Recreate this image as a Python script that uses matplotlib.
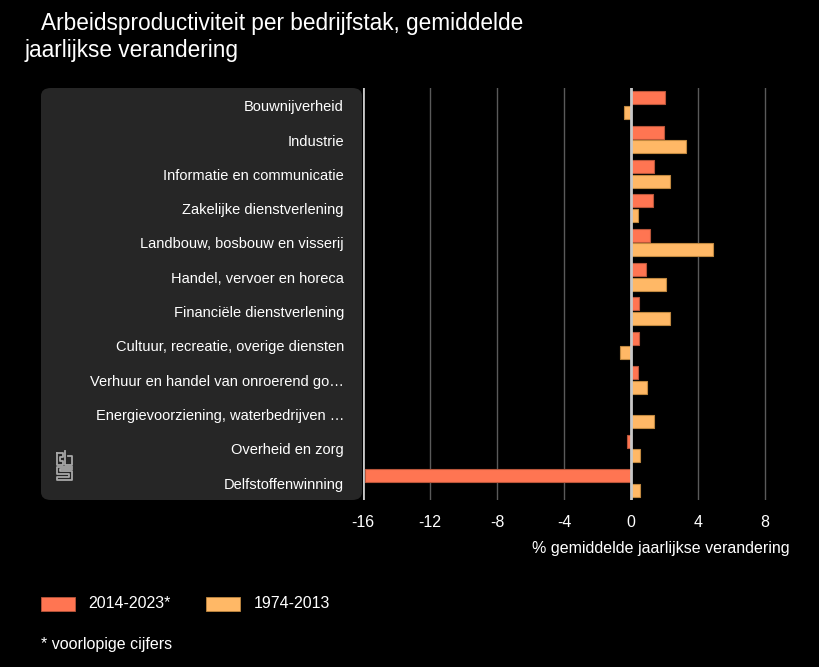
import matplotlib
matplotlib.use("Agg")
import matplotlib.pyplot as plt
import numpy as np
from matplotlib.patches import FancyBboxPatch, Rectangle

plt.rcParams['font.family'] = ['Liberation Sans', 'DejaVu Sans']

# data
sectoren = ["Bouwnijverheid", "Industrie", "Informatie en communicatie",
            "Zakelijke dienstverlening", "Landbouw, bosbouw en visserij",
            "Handel, vervoer en horeca", "Financiële dienstverlening",
            "Cultuur, recreatie, overige diensten",
            "Verhuur en handel van onroerend go…",
            "Energievoorziening, waterbedrijven …",
            "Overheid en zorg", "Delfstoffenwinning"]
recent = [2.05, 1.95, 1.35, 1.3, 1.15, 0.9, 0.5, 0.5, 0.4, 0.0, -0.25, -15.9]   # 2014-2023*
oud = [-0.4, 3.3, 2.35, 0.4, 4.9, 2.1, 2.35, -0.65, 0.95, 1.4, 0.55, 0.55]      # 1974-2013
xticks = [-16, -12, -8, -4, 0, 4, 8]

rood = '#FF7552'
rood_rand = '#B8553A'
oranje = '#FFB866'
oranje_rand = '#C08840'

W, H = 820, 667
fig = plt.figure(figsize=(W/100, H/100), dpi=100, facecolor='black')

def fx(px): return px / W
def fy(py): return 1 - py / H

# grijs paneel achter de labels
paneel = FancyBboxPatch((fx(41), fy(500)), fx(362) - fx(41), fy(88) - fy(500),
                        boxstyle="round,pad=0,rounding_size=0.012",
                        transform=fig.transFigure, facecolor='#262626',
                        edgecolor='none', zorder=0)
fig.patches.append(paneel)

ax = fig.add_axes([fx(363), fy(500), fx(790) - fx(363), fy(88) - fy(500)])
ax.set_facecolor('none')

y = np.arange(len(sectoren))
h = 0.38
ax.barh(y - 0.21, recent, height=h, color=rood, edgecolor=rood_rand, linewidth=0.8, zorder=3)
ax.barh(y + 0.21, oud, height=h, color=oranje, edgecolor=oranje_rand, linewidth=0.8, zorder=3)

ax.set_xlim(-16, 9.5)
ax.set_ylim(len(sectoren) - 0.5, -0.5)

for t in xticks:
    if t in (-16, 0):
        ax.axvline(t, color='#C8C8C8', lw=2, zorder=4)
    else:
        ax.axvline(t, color='#5A5A5A', lw=1, zorder=1)

for s in ax.spines.values():
    s.set_visible(False)

ax.set_xticks(xticks)
ax.set_xticklabels([str(t) for t in xticks])
ax.tick_params(axis='x', length=0, pad=11, colors='white', labelsize=11.5)
ax.set_yticks([])

for i, naam in enumerate(sectoren):
    ypx = ax.transData.transform((0, i))[1] - 2
    fig.text(fx(344), ypx / (fig.dpi * fig.get_figheight()),
             naam, color='white', fontsize=10.5, ha='right', va='center')

fig.text(fx(790), fy(548), "% gemiddelde jaarlijkse verandering", color='white',
         fontsize=11.5, ha='right', va='center')

# titel
fig.text(fx(41), fy(30), "Arbeidsproductiviteit per bedrijfstak, gemiddelde",
         color='white', fontsize=16.3, ha='left', va='baseline')
fig.text(fx(25), fy(57), "jaarlijkse verandering",
         color='white', fontsize=16.3, ha='left', va='baseline')

# logo (vereenvoudigd)
logo = '#A8A8A8'
segs = [
    [(57, 453), (57, 465), (63, 465), (63, 461), (60, 461), (60, 457), (63, 457), (63, 453), (57, 453)],
    [(65, 451), (65, 465), (72, 465), (72, 456), (68, 456)],
    [(72, 467), (57, 467), (57, 474), (69, 474), (69, 477), (57, 477), (57, 480), (72, 480),
     (72, 471), (60, 471), (60, 469), (72, 469)],
]
for seg in segs:
    xs = [fx(p[0]) for p in seg]
    ys = [fy(p[1]) for p in seg]
    fig.add_artist(plt.Line2D(xs, ys, color=logo, lw=1.3, transform=fig.transFigure))

# legenda
fig.patches.append(Rectangle((fx(41), fy(611)), fx(34), fy(597) - fy(611), transform=fig.transFigure,
                             facecolor=rood, edgecolor=rood_rand, lw=0.6))
fig.text(fx(88), fy(604), "2014-2023*", color='white', fontsize=11.5, ha='left', va='center')
fig.patches.append(Rectangle((fx(206), fy(611)), fx(34), fy(597) - fy(611), transform=fig.transFigure,
                             facecolor=oranje, edgecolor=oranje_rand, lw=0.6))
fig.text(fx(254), fy(604), "1974-2013", color='white', fontsize=11.5, ha='left', va='center')

fig.text(fx(41), fy(644), "* voorlopige cijfers", color='white', fontsize=11.5, ha='left', va='center')

fig.savefig("out.png", dpi=100, facecolor='black')
